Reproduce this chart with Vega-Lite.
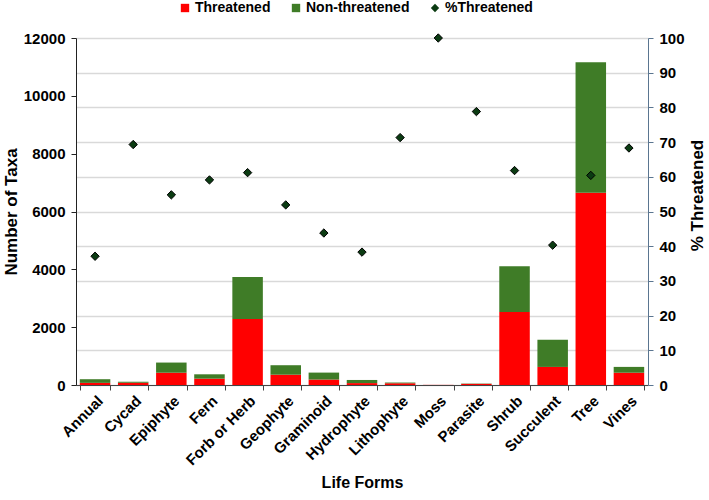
{
  "$schema": "https://vega.github.io/schema/vega-lite/v6.json",
  "width": 572,
  "height": 347,
  "autosize": {"type": "none"},
  "padding": {"left": 76, "top": 38, "right": 61, "bottom": 115},
  "background": "white",
  "config": {
    "font": "Liberation Sans",
    "view": {"stroke": null},
    "axis": {"labelFont": "Liberation Sans", "titleFont": "Liberation Sans", "labelFontWeight": "bold", "titleFontWeight": "bold", "labelColor": "black", "titleColor": "black"}
  },
  "data": {
    "values": [
      {"life_form": "Annual", "Threatened": 74, "Non-threatened": 126, "pct": 37.1},
      {"life_form": "Cycad", "Threatened": 76, "Non-threatened": 34, "pct": 69.3},
      {"life_form": "Epiphyte", "Threatened": 425, "Non-threatened": 351, "pct": 54.8},
      {"life_form": "Fern", "Threatened": 219, "Non-threatened": 151, "pct": 59.1},
      {"life_form": "Forb or Herb", "Threatened": 2280, "Non-threatened": 1453, "pct": 61.2},
      {"life_form": "Geophyte", "Threatened": 356, "Non-threatened": 328, "pct": 51.9},
      {"life_form": "Graminoid", "Threatened": 189, "Non-threatened": 240, "pct": 43.8},
      {"life_form": "Hydrophyte", "Threatened": 66, "Non-threatened": 108, "pct": 38.3},
      {"life_form": "Lithophyte", "Threatened": 60, "Non-threatened": 25, "pct": 71.3},
      {"life_form": "Moss", "Threatened": 5, "Non-threatened": 0, "pct": 100},
      {"life_form": "Parasite", "Threatened": 39, "Non-threatened": 11, "pct": 78.8},
      {"life_form": "Shrub", "Threatened": 2528, "Non-threatened": 1576, "pct": 61.8},
      {"life_form": "Succulent", "Threatened": 625, "Non-threatened": 940, "pct": 40.3},
      {"life_form": "Tree", "Threatened": 6650, "Non-threatened": 4510, "pct": 60.4},
      {"life_form": "Vines", "Threatened": 425, "Non-threatened": 201, "pct": 68.3}
    ]
  },
  "encoding": {
    "x": {
      "field": "life_form",
      "type": "nominal",
      "sort": null,
      "scale": {"paddingInner": 0.2, "paddingOuter": 0.1},
      "axis": {
        "title": "Life Forms",
        "titleFontSize": 16,
        "titlePadding": 7,
        "labelFontSize": 15,
        "labelAngle": -45,
        "labelAlign": "right",
        "labelBaseline": "top",
        "labelPadding": 3,
        "labelOverlap": false,
        "tickBand": "extent",
        "tickSize": 5,
        "tickColor": "#444",
        "domainColor": "#444",
        "labelColor": "black"
      }
    }
  },
  "layer": [
    {
      "transform": [{"fold": ["Threatened", "Non-threatened"], "as": ["series", "taxa"]}],
      "mark": {"type": "bar"},
      "encoding": {
        "y": {
          "field": "taxa",
          "type": "quantitative",
          "stack": "zero",
          "scale": {"domain": [0, 12000], "nice": false},
          "axis": {
            "title": "Number of Taxa",
            "titleFontSize": 17,
            "titlePadding": 3,
            "labelFontSize": 15,
            "format": "d",
            "values": [0, 2000, 4000, 6000, 8000, 10000, 12000],
            "grid": false,
            "tickSize": 5,
            "tickColor": "#222",
            "domainColor": "#222",
            "labelPadding": 6
          }
        },
        "color": {
          "field": "series",
          "type": "nominal",
          "scale": {"domain": ["Threatened", "Non-threatened", "%Threatened"], "range": ["#ff0000", "#3f7c27", "#0b3b12"]},
          "legend": {
            "title": null,
            "orient": "none",
            "legendX": 102,
            "legendY": -37,
            "direction": "horizontal",
            "labelFontSize": 14,
            "labelFontWeight": "bold",
            "labelFont": "Liberation Sans",
            "labelColor": "black",
            "symbolSize": 70,
            "columnPadding": 18,
            "labelOffset": 3,
            "encode": {
              "symbols": {
                "update": {
                  "shape": {"signal": "datum.value === '%Threatened' ? 'diamond' : 'square'"},
                  "strokeWidth": {"value": 0}
                }
              }
            }
          }
        },
        "order": {"field": "series", "sort": "descending"}
      }
    },
    {
      "mark": {"type": "point", "shape": "diamond", "filled": true, "size": 70, "stroke": "black", "strokeWidth": 1, "opacity": 1},
      "encoding": {
        "y": {
          "field": "pct",
          "type": "quantitative",
          "scale": {"domain": [0, 100], "nice": false},
          "axis": {
            "orient": "right",
            "title": "% Threatened",
            "titleAngle": 270,
            "titleFontSize": 17,
            "titlePadding": 22,
            "titleY": 157,
            "labelFontSize": 15,
            "values": [0, 10, 20, 30, 40, 50, 60, 70, 80, 90, 100],
            "grid": true,
            "gridColor": "#d9d9d9",
            "gridWidth": 1.3,
            "tickSize": 5,
            "tickColor": "#5a7590",
            "domainColor": "#5a7590",
            "labelPadding": 6
          }
        },
        "color": {"datum": "%Threatened"}
      }
    }
  ],
  "resolve": {"scale": {"y": "independent"}}
}
